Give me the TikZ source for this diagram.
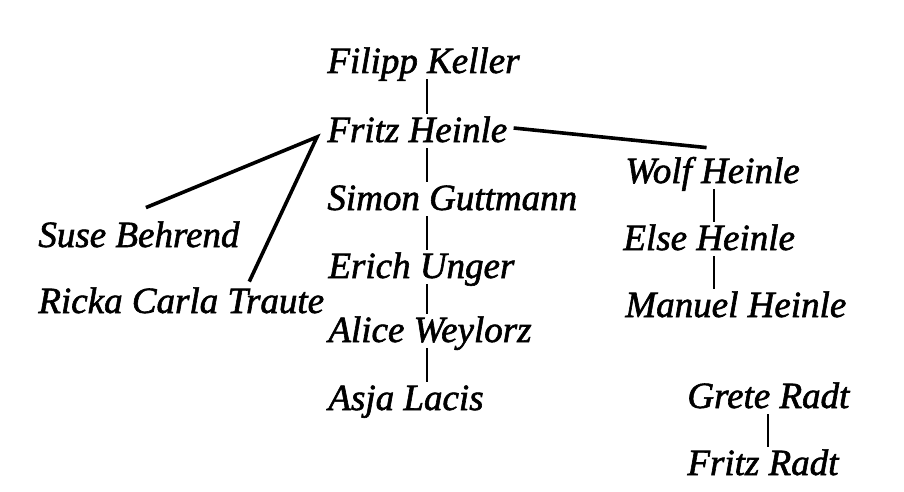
\documentclass[tikz,border=0pt]{standalone}
\usepackage{fontspec}
\setmainfont{Liberation Serif}[ItalicFeatures={FakeBold=1.6}]
\usetikzlibrary{positioning}

\begin{document}
\begin{tikzpicture}[x=0.5pt, y=-0.5pt,
  every node/.style={font=\itshape\fontsize{18.5}{20}\selectfont},
  person/.style={anchor=base west, inner sep=1pt, text height=13pt, text depth=2pt},
  tie/.style={line width=1.1pt},
  link/.style={line width=1.8pt}]
\useasboundingbox (0,0) rectangle (904,492);
% middle column
\node[person] (keller) at (325,73) {Filipp Keller};
\node[person] (fheinle) at (325,142) {Fritz Heinle};
\node[person] (guttmann) at (325,210) {Simon Guttmann};
\node[person] (unger) at (326,278) {Erich Unger};
\node[person] (weylorz) at (326,342) {Alice Weylorz};
\node[person] (lacis) at (326,410) {Asja Lacis};
% left
\node[person] (behrend) at (36,247) {Suse Behrend};
\node[person] (traute) at (36,313) {Ricka Carla Traute};
% right
\node[person] (wheinle) at (623,183) {Wolf Heinle};
\node[person] (eheinle) at (621,250) {Else Heinle};
\node[person] (mheinle) at (623,317) {Manuel Heinle};
\node[person] (gradt) at (685,408) {Grete Radt};
\node[person] (fradt) at (685,475) {Fritz Radt};
\coordinate (spine) at (427,0);
\coordinate (wcol) at (714,0);
\coordinate (rcol) at (768,0);
\draw[tie] (keller.south -| spine) -- (fheinle.north -| spine);
\draw[tie] (fheinle.south -| spine) -- (guttmann.north -| spine);
\draw[tie] (guttmann.south -| spine) -- (unger.north -| spine);
\draw[tie] (unger.south -| spine) -- (weylorz.north -| spine);
\draw[tie] (weylorz.south -| spine) -- (lacis.north -| spine);
\draw[tie] (wheinle.south -| wcol) -- (eheinle.north -| wcol);
\draw[tie] (eheinle.south -| wcol) -- (mheinle.north -| wcol);
\draw[tie] (gradt.south -| rcol) -- (fradt.north -| rcol);
\draw[link] ([xshift=3.5pt,yshift=5.5pt]behrend.north) -- ([xshift=-4pt,yshift=-3pt]fheinle.west)
  -- ([xshift=34pt,yshift=1.5pt]traute.north);
\draw[link] ([xshift=2pt,yshift=1.5pt]fheinle.east) -- ([xshift=-3pt,yshift=3.5pt]wheinle.north);
\end{tikzpicture}
\end{document}
